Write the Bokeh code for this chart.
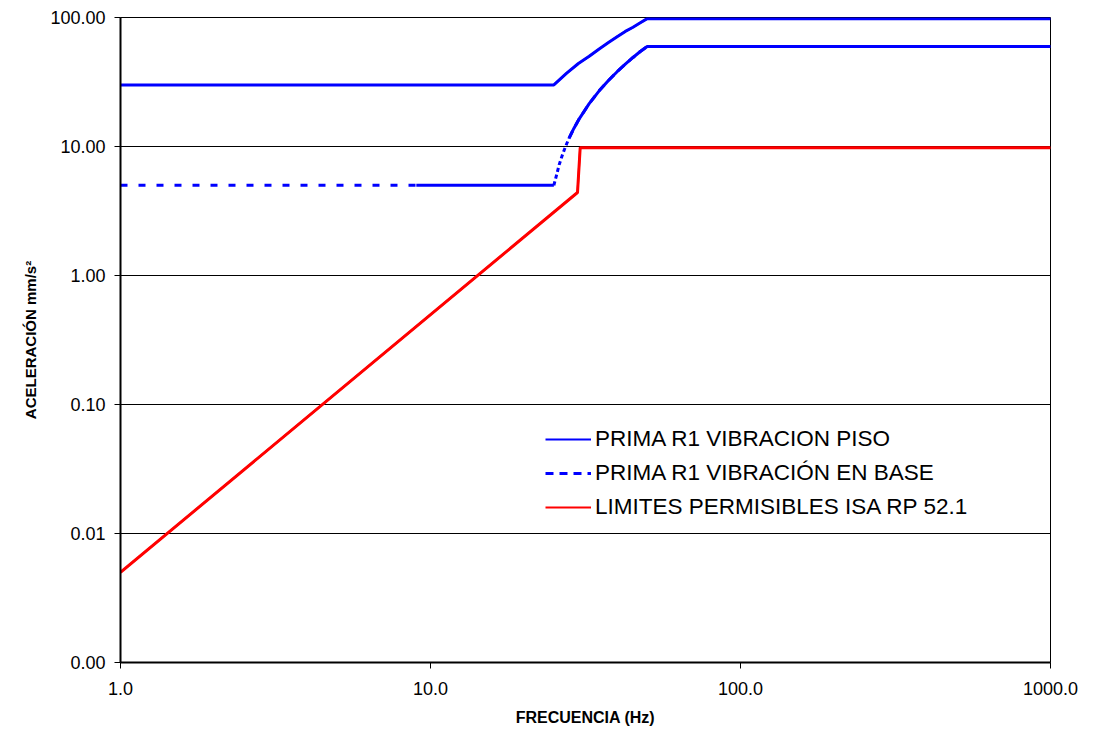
from bokeh.plotting import figure
from bokeh.models import FixedTicker, CustomJSTickFormatter, Legend, LegendItem
from bokeh.embed import file_html
from bokeh.resources import INLINE

# ---- data ----
x_ticks = [1, 10, 100, 1000]
y_ticks = [0.001, 0.01, 0.1, 1, 10, 100]

piso_freq = [1, 25, 27.5, 30, 32.5, 35, 37.5, 40, 42.5, 45, 47.5, 50, 1000]
piso_acc = [30, 30, 37, 44, 50, 57, 64, 71, 78, 84, 91, 98, 98]

base_freq = [1, 9, 25, 25.5, 26, 26.5, 27, 27.5, 28, 29, 30, 32.5, 35, 37.5, 40, 42.5, 45, 47.5, 50, 1000]
base_acc = [5, 5, 5, 6.0, 7.2, 8.3, 9.4, 10.5, 11.6, 13.8, 16, 21.5, 27, 32.5, 38, 43.5, 49, 54.5, 59.5, 59.5]

lim_freq = [1, 29.8, 30.4, 1000]
lim_acc = [0.005, 4.4, 9.8, 9.8]

names = ["PRIMA R1 VIBRACION PISO", "PRIMA R1 VIBRACIÓN EN BASE", "LIMITES PERMISIBLES ISA RP 52.1"]

BLUE = "#0000FF"
RED = "#FF0000"
FONT = "Liberation Sans"

p = figure(width=1093, height=728, x_axis_type="log", y_axis_type="log",
           x_range=(1, 1000), y_range=(0.001, 100),
           output_backend="svg", toolbar_location=None,
           min_border_left=120, min_border_top=17, min_border_right=43, min_border_bottom=66)
p.frame_width = 930
p.frame_height = 645

p.background_fill_color = "white"
p.outline_line_color = "black"
p.outline_line_width = 1

# grid
p.xgrid.grid_line_color = None
p.ygrid.grid_line_color = "black"
p.ygrid.grid_line_width = 1
p.ygrid.ticker = FixedTicker(ticks=y_ticks)

# axes
p.xaxis.ticker = FixedTicker(ticks=x_ticks)
p.yaxis.ticker = FixedTicker(ticks=y_ticks)
p.xaxis.formatter = CustomJSTickFormatter(code="return tick.toFixed(1);")
p.yaxis.formatter = CustomJSTickFormatter(code="return tick.toFixed(2);")
for ax in (p.xaxis, p.yaxis):
    ax.axis_line_color = "black"
    ax.axis_line_width = 2
    ax.major_tick_line_color = "black"
    ax.major_tick_line_width = 1
    ax.major_tick_out = 6
    ax.major_tick_in = 0
    ax.minor_tick_line_color = None
    ax.major_label_text_font = FONT
    ax.major_label_text_font_size = "18px"
    ax.major_label_text_color = "black"
    ax.axis_label_text_font = FONT
    ax.axis_label_text_font_style = "bold"
    ax.axis_label_text_color = "black"
p.xaxis.major_label_standoff = 13
p.yaxis.major_label_standoff = 9
p.xaxis.axis_label = "FRECUENCIA (Hz)"
p.yaxis.axis_label = "ACELERACIÓN mm/s²"
p.xaxis.axis_label_text_font_size = "16px"
p.yaxis.axis_label_text_font_size = "15px"
p.xaxis.axis_label_standoff = 11
p.yaxis.axis_label_standoff = 8

# ---- legend proxies (thinner lines, hidden under the series) ----
r_leg1 = p.line(piso_freq, piso_acc, line_color=BLUE, line_width=2)
r_leg3 = p.line(lim_freq, lim_acc, line_color=RED, line_width=2)
rest_idx = [i for i, f in enumerate(base_freq) if f >= 28]
r_leg2 = p.line([base_freq[i] for i in rest_idx], [base_acc[i] for i in rest_idx],
                line_color=BLUE, line_width=3, line_dash="8 6")

# ---- series ----
p.line(piso_freq, piso_acc, line_color=BLUE, line_width=3)

# base series: Excel-like rendering, dashed where segments are long
dash_idx = [i for i, f in enumerate(base_freq) if f <= 9]
mid_idx = [i for i, f in enumerate(base_freq) if 9 <= f <= 25]
steep_idx = [i for i, f in enumerate(base_freq) if 25 <= f <= 28]
for idx, dash in ((dash_idx, "7 11"), (mid_idx, "solid"), (steep_idx, "4 3"), (rest_idx, "solid")):
    p.line([base_freq[i] for i in idx], [base_acc[i] for i in idx],
           line_color=BLUE, line_width=3, line_dash=dash)

p.line(lim_freq, lim_acc, line_color=RED, line_width=3)

legend = Legend(items=[LegendItem(label=names[0], renderers=[r_leg1]),
                       LegendItem(label=names[1], renderers=[r_leg2]),
                       LegendItem(label=names[2], renderers=[r_leg3])],
                location=(425, 142))
legend.border_line_color = None
legend.background_fill_alpha = 0
legend.padding = 0
legend.margin = 0
legend.spacing = 8
legend.glyph_width = 46
legend.glyph_height = 20
legend.label_height = 20
legend.label_standoff = 4
legend.label_text_font = FONT
legend.label_text_font_size = "22.5px"
legend.label_text_color = "black"
p.add_layout(legend)

open("out.html", "w").write(file_html(p, INLINE))
